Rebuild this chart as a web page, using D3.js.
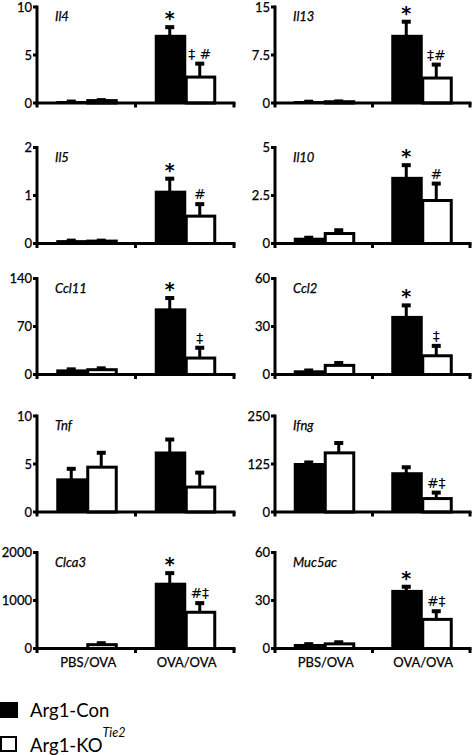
<!DOCTYPE html>
<html><head><meta charset="utf-8">
<script src="https://cdn.jsdelivr.net/npm/d3@7"></script>
<style>
html,body{margin:0;padding:0;background:#fff;}
svg{display:block;font-family:Lato,"Open Sans",sans-serif;}
</style></head>
<body>
<svg id="chart" width="475" height="755"></svg>
<script>
const genes = ["Il4","Il13","Il5","Il10","Ccl11","Ccl2","Tnf","Ifng","Clca3","Muc5ac"];
const groups = ["PBS/OVA","OVA/OVA"];
const seriesNames = ["Arg1-Con","Arg1-KO"];
const yMax = [10,15,2,5,140,60,10,250,2000,60];
const yTicks = [[0,5,10],[0,7.5,15],[0,1,2],[0,2.5,5],[0,70,140],[0,30,60],[0,5,10],[0,125,250],[0,1000,2000],[0,30,60]];
const conMean = [[0.1,7.0],[0.15,10.5],[0.05,1.08],[0.25,3.42],[6,95],[2,36],[3.4,6.2],[125,101],[5,1350],[2.2,36]];
const conErr  = [[0.05,0.9],[0.05,2.2],[0.01,0.27],[0.05,0.66],[1.5,16.5],[0.5,7.2],[1.1,1.35],[4,15.5],[0,220],[0.5,2.6]];
const koMean  = [[0.25,2.7],[0.2,3.9],[0.05,0.57],[0.52,2.24],[7,24],[5.7,11.7],[4.67,2.6],[154,35],[80,755],[2.9,18.2]];
const koErr   = [[0.05,1.4],[0.05,2.1],[0.01,0.25],[0.17,0.88],[2,15],[1.5,6.2],[1.5,1.5],[25.7,15.5],[30,190],[1,5.1]];
const conMarks = [["","*"],["","*"],["","*"],["","*"],["","*"],["","*"],["",""],["",""],["","*"],["","*"]];
const koMarks  = [["","‡ #"],["","‡#"],["","#"],["","#"],["","‡"],["","‡"],["",""],["","#‡"],["","#‡"],["","#‡"]];

const svg = d3.select("#chart");
const colX = [[37,234],[275,470]];
const rowZero = [103,243.5,374.5,512,648.5];
const plotH = 96;
const barW = 30;

genes.forEach((g,i)=>{
  const col = i%2, row = Math.floor(i/2);
  const [x0,x1] = colX[col];
  const y0 = rowZero[row];
  const gEl = svg.append("g");
  const x = d3.scaleBand().domain(groups).range([x0,x1]).padding(0);
  const bw = x.bandwidth();
  const xs = d3.scaleBand().domain(seriesNames).range([0,bw])
      .paddingInner(0).paddingOuter((bw/barW-2)/2);
  const y = d3.scaleLinear().domain([0,yMax[i]]).range([y0,y0-plotH]);

  const data = [];
  groups.forEach((grp,gi)=>{
    data.push({grp, s:seriesNames[0], v:conMean[i][gi], e:conErr[i][gi], m:conMarks[i][gi]});
    data.push({grp, s:seriesNames[1], v:koMean[i][gi], e:koErr[i][gi], m:koMarks[i][gi]});
  });

  data.forEach(d=>{
    const bx = x(d.grp)+xs(d.s);
    const cx = bx + xs.bandwidth()/2;
    const top = y(d.v);
    const capY = y(d.v+d.e);
    if (d.e>0){
      gEl.append("line").attr("x1",cx).attr("x2",cx).attr("y1",top).attr("y2",capY)
        .attr("stroke","#000").attr("stroke-width",3);
      gEl.append("rect").attr("x",cx-4.5).attr("y",capY-2).attr("width",9).attr("height",4).attr("fill","#000");
    }
    if (d.s===seriesNames[0]){
      gEl.append("rect").attr("x",bx).attr("y",top-1).attr("width",xs.bandwidth()+1.5)
        .attr("height",Math.max(0,y0-top+1)).attr("fill","#000");
    } else {
      gEl.append("rect").attr("x",bx+1.5).attr("y",top).attr("width",xs.bandwidth()-1.5)
        .attr("height",Math.max(0,y0-top)).attr("fill","#fff").attr("stroke","#000").attr("stroke-width",3);
    }
    if (d.m){
      if (d.m==="*"){
        gEl.append("text").attr("x",cx).attr("y",capY-2).attr("text-anchor","middle")
          .attr("font-size",19).attr("font-weight","bold").attr("font-family","DejaVu Sans").text("*");
      } else {
        gEl.append("text").attr("x",cx).attr("y",capY-5).attr("text-anchor","middle")
          .attr("font-size",14).attr("font-family","DejaVu Sans").text(d.m);
      }
    }
  });

  // y axis
  gEl.append("line").attr("x1",x0).attr("x2",x0).attr("y1",y(yMax[i])-1.5).attr("y2",y0+1.5)
    .attr("stroke","#000").attr("stroke-width",3);
  yTicks[i].forEach(t=>{
    gEl.append("line").attr("x1",x0-4).attr("x2",x0).attr("y1",y(t)).attr("y2",y(t))
      .attr("stroke","#000").attr("stroke-width",3);
    gEl.append("text").attr("x",x0-5).attr("y",y(t)+4.5).attr("text-anchor","end")
      .attr("font-size",13).attr("stroke","#000").attr("stroke-width",0.25).text(t);
  });
  // x axis
  gEl.append("line").attr("x1",x0-1.5).attr("x2",x1+1.5).attr("y1",y0).attr("y2",y0)
    .attr("stroke","#000").attr("stroke-width",3);
  const bounds = [x0, x(groups[1]), x1];
  bounds.forEach(bx=>{
    gEl.append("line").attr("x1",bx).attr("x2",bx).attr("y1",y0).attr("y2",y0+4.5)
      .attr("stroke","#000").attr("stroke-width",3);
  });
  // gene label
  gEl.append("text").attr("x",x0+18).attr("y",y0-plotH+14).attr("font-size",13)
    .attr("font-style","italic").attr("stroke","#000").attr("stroke-width",0.25).text(g);
  if (row===4){
    groups.forEach(grp=>{
      gEl.append("text").attr("x",x(grp)+bw/2+2).attr("y",y0+18.5).attr("text-anchor","middle")
        .attr("font-size",13).attr("stroke","#000").attr("stroke-width",0.25).text(grp);
    });
  }
});

// legend
const lg = svg.append("g");
lg.append("rect").attr("x",0).attr("y",702).attr("width",18).attr("height",16).attr("fill","#000");
lg.append("text").attr("x",30).attr("y",717).attr("font-size",18.5).text(seriesNames[0]);
lg.append("rect").attr("x",1).attr("y",737).attr("width",15).attr("height",14).attr("fill","#fff")
  .attr("stroke","#000").attr("stroke-width",2);
const t2 = lg.append("text").attr("x",30).attr("y",752).attr("font-size",18.5);
t2.append("tspan").text(seriesNames[1]);
t2.append("tspan").attr("font-size",12.5).attr("font-style","italic").attr("dy",-15).text("Tie2");
</script>
</body></html>
